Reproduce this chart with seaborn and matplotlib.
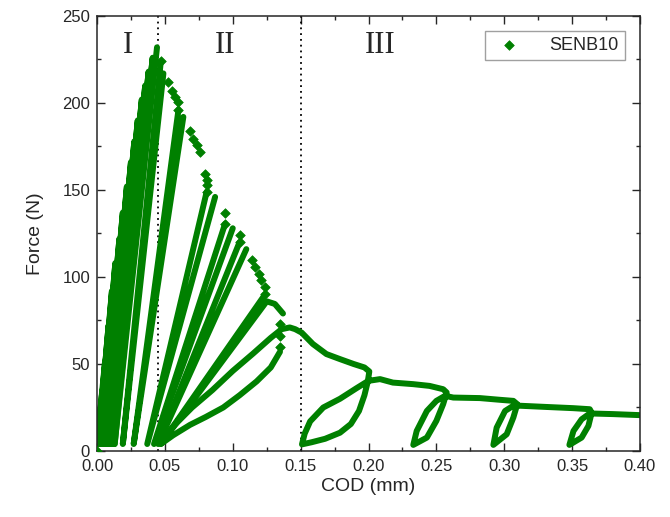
import pandas as pd
import matplotlib
matplotlib.use("Agg")
import matplotlib.pyplot as plt
import seaborn as sns
from matplotlib.ticker import MultipleLocator, FormatStrFormatter

GREEN = "#008000"
VALLEY_F = 4  # force (N) at the bottom of every unloading

# Region I: load/unload cycles before the maximum load (COD mm, force N)
pre_start = [0.000, 0.000, 0.001, 0.001, 0.002, 0.003, 0.004, 0.005,
             0.006, 0.007, 0.008, 0.009, 0.010, 0.011, 0.012, 0.013]
pre_peak_x = [0.004, 0.006, 0.0085, 0.011, 0.0135, 0.0165, 0.019, 0.022,
              0.025, 0.0275, 0.030, 0.033, 0.0355, 0.038, 0.041, 0.0442]
pre_peak_f = [35, 52, 72, 92, 108, 122, 137, 152,
              166, 178, 190, 202, 210, 218, 226, 232]
pre_end = [0.000, 0.001, 0.001, 0.002, 0.003, 0.004, 0.005, 0.006,
           0.007, 0.008, 0.009, 0.010, 0.011, 0.012, 0.013, None]

# Region II: unload from end of drop -> residual COD -> reload to next peak
leaf_from_x = [0.047, 0.060, 0.0808, 0.0943, 0.105, 0.1238]
leaf_from_f = [224, 196, 149, 130.5, 120, 90]
leaf_res = [0.019, 0.027, 0.037, 0.042, 0.045, 0.047]
leaf_peak_x = [0.0489, 0.0636, 0.087, 0.100, 0.110, 0.125]
leaf_peak_f = [217, 192, 146, 128, 116, 86]
hump_x = [0.131, 0.137]
hump_f = [84.5, 79]

# sparse points while the crack grows (load drops)
drop_x = [0.0, 0.047,
          0.0525, 0.055, 0.0575, 0.060, 0.060,
          0.0685, 0.071, 0.0734, 0.0759, 0.0796, 0.0808, 0.0808, 0.0808,
          0.0943, 0.0943,
          0.105, 0.105,
          0.114, 0.1164, 0.119, 0.121, 0.1238, 0.1238,
          0.1348, 0.1348, 0.1348]
drop_f = [0, 224,
          212, 207, 203.5, 200.6, 196,
          184, 179.5, 176, 172, 159, 155.5, 152.6, 149,
          137, 130.5,
          124, 120,
          110, 105.6, 101.8, 98, 94, 90,
          73, 66, 60]

# Region III and last loop of region II: continuous record
tail_x = [0.1348, 0.128, 0.1176, 0.105, 0.093, 0.080, 0.0685, 0.056, 0.047,
          0.050, 0.056, 0.070, 0.085, 0.100, 0.115, 0.128, 0.136, 0.1420,
          0.1460, 0.1508, 0.159, 0.169, 0.179, 0.189, 0.197, 0.2006,
          0.1995, 0.197, 0.193, 0.187, 0.179, 0.168, 0.158, 0.151,
          0.153, 0.157, 0.1667, 0.179, 0.191, 0.1999, 0.2085, 0.218, 0.233,
          0.245, 0.255, 0.2576,
          0.255, 0.250, 0.243, 0.233,
          0.2355, 0.243, 0.250, 0.2564, 0.2625, 0.282, 0.297, 0.3067, 0.3096,
          0.3067, 0.3018, 0.292,
          0.2944, 0.3006, 0.3067, 0.3116, 0.331, 0.351, 0.363, 0.3644,
          0.362, 0.357, 0.348,
          0.351, 0.357, 0.362, 0.366, 0.380, 0.400]
tail_f = [57, 48, 40, 32, 25, 19.5, 15, 9, 4,
          9, 14, 25, 35, 46, 56, 65, 70, 71,
          70, 68, 61.5, 55.7, 52.8, 50, 48, 45.7,
          40, 32, 23, 15.5, 10.5, 7, 5, 3.8,
          10, 17, 25, 30, 36, 40.3, 41.3, 39.3, 38.4,
          37.4, 35.5, 33.6,
          26.9, 17.3, 7.7, 3.5,
          11.5, 23, 28.8, 31.7, 30.7, 30.4, 29.4, 28.8, 26.9,
          19.2, 9.6, 3.5,
          13.4, 23, 26, 26, 25.3, 24.6, 24, 22,
          14.4, 7.7, 3.5,
          11.5, 18.2, 21, 21.5, 21.2, 20.6]

region_x = [0.0228, 0.0947, 0.2085]
region_text = ["I", "II", "III"]
boundary_x = [0.045, 0.15]

# build a long table of polylines
rows = []
for i in range(len(pre_start)):
    xs = [pre_start[i], pre_peak_x[i]]
    fs = [VALLEY_F, pre_peak_f[i]]
    if pre_end[i] is not None:
        xs.append(pre_end[i])
        fs.append(VALLEY_F)
    for x, f in zip(xs, fs):
        rows.append(("pre%d" % i, x, f))
for i in range(len(leaf_res)):
    xs = [leaf_from_x[i], leaf_res[i], leaf_peak_x[i]]
    fs = [leaf_from_f[i], VALLEY_F, leaf_peak_f[i]]
    if i == len(leaf_res) - 1:
        xs += hump_x
        fs += hump_f
    for x, f in zip(xs, fs):
        rows.append(("leaf%d" % i, x, f))
for x, f in zip(tail_x, tail_f):
    rows.append(("tail", x, f))
curves = pd.DataFrame(rows, columns=["cycle", "COD", "Force"])
drops = pd.DataFrame({"COD": drop_x, "Force": drop_f})

sns.set_style("ticks")
plt.rcParams["font.family"] = ["Liberation Sans", "DejaVu Sans"]

fig = plt.figure(figsize=(6.7, 5.17), dpi=100)
ax = fig.add_axes([0.1448, 0.1277, 0.8104, 0.8414])

sns.lineplot(data=curves, x="COD", y="Force", units="cycle", estimator=None,
             sort=False, color=GREEN, lw=4.3, legend=False, ax=ax,
             solid_joinstyle="round", solid_capstyle="round")
sns.scatterplot(data=drops, x="COD", y="Force", marker="D", s=24,
                color=GREEN, edgecolor=GREEN, linewidth=0.5, label="SENB10",
                ax=ax, zorder=3)

for bx in boundary_x:
    ax.axvline(bx, color="black", ls=(0, (1, 2.2)), lw=1.3, zorder=1)
for rx, t in zip(region_x, region_text):
    ax.text(rx, 233, t, ha="center", va="center", fontsize=22,
            family="Liberation Serif")

ax.set_xlim(0, 0.40)
ax.set_ylim(0, 250)
ax.xaxis.set_major_locator(MultipleLocator(0.05))
ax.xaxis.set_minor_locator(MultipleLocator(0.025))
ax.xaxis.set_major_formatter(FormatStrFormatter("%.2f"))
ax.yaxis.set_major_locator(MultipleLocator(50))
ax.yaxis.set_minor_locator(MultipleLocator(25))
ax.tick_params(which="both", direction="in", top=True, right=True,
               labelsize=12, width=1)
ax.tick_params(which="major", length=6)
ax.tick_params(which="minor", length=3)
ax.tick_params(axis="x", which="major", pad=6)
ax.tick_params(axis="y", which="major", pad=5)
for s in ax.spines.values():
    s.set_linewidth(1.1)
ax.set_xlabel("COD (mm)", fontsize=14, labelpad=3)
ax.set_ylabel("Force (N)", fontsize=14, labelpad=13)

leg = ax.legend(loc="upper right", bbox_to_anchor=(0.972, 0.966),
                borderaxespad=0, fontsize=13, frameon=True, fancybox=False,
                handletextpad=1.2, borderpad=0.35, handlelength=2.0)
leg.get_frame().set_edgecolor("#888888")
leg.get_frame().set_linewidth(1.0)

fig.savefig("out.png", dpi=100)
